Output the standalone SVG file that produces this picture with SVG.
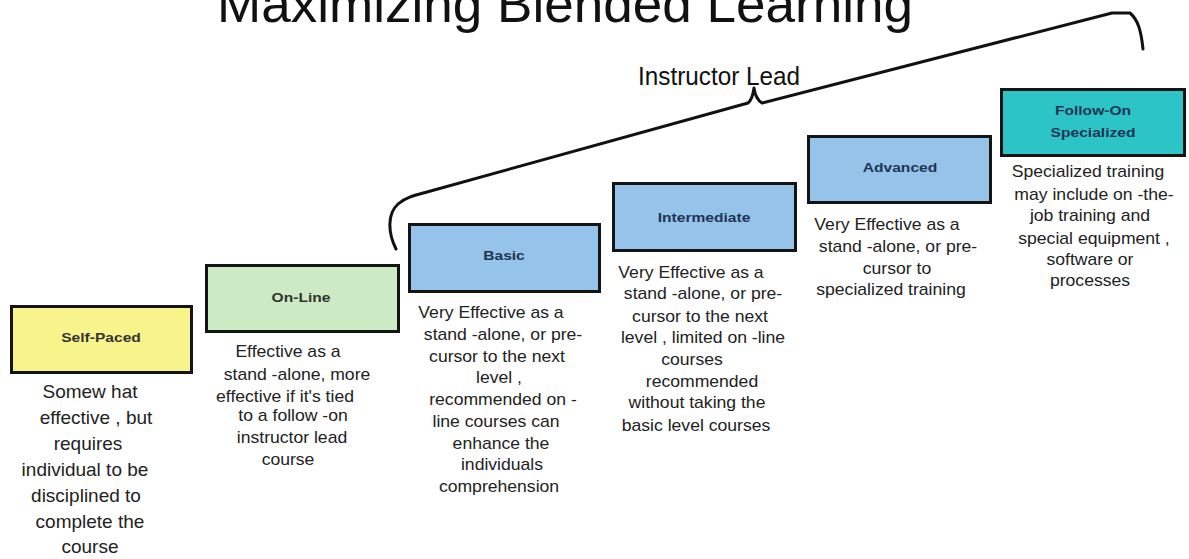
<svg xmlns="http://www.w3.org/2000/svg" width="1189" height="559" viewBox="0 0 1189 559">
<style>
.bg{fill:#ffffff}
.box{stroke:#141414;stroke-width:3}
.yel{fill:#F8F48C}
.grn{fill:#CCEAC4}
.blu{fill:#95C3EA}
.tea{fill:#2CC4C7}
.lbl{font-family:"Liberation Sans",Arial,sans-serif;font-size:13px;font-weight:bold;text-anchor:middle}
.lg{fill:#333333}
.lb{fill:#1F3552}
.desc{font-family:"Liberation Sans",Arial,sans-serif;font-size:16px;fill:#222222;text-anchor:middle}
.desc2{font-family:"Liberation Sans",Arial,sans-serif;font-size:19px;fill:#222222;text-anchor:middle}
.title{font-family:"Liberation Sans",Arial,sans-serif;font-size:52px;fill:#111111}
.il{font-family:"Liberation Sans",Arial,sans-serif;font-size:26px;fill:#111111}
.brace{fill:none;stroke:#111111;stroke-width:3;stroke-linecap:round;stroke-linejoin:round}
</style>
<rect class="bg" x="0" y="0" width="1189" height="559"/>
<text class="title" x="217" y="22" textLength="696" lengthAdjust="spacingAndGlyphs">Maximizing Blended Learning</text>

<g id="connectors">
<path class="brace" d="M396 249 C388 233 387 214 398 204 C406 197 416 195 427 192 L748 103 C752 100 753 95 754 88 C755 95 757 100 762 103 L1112 13 L1130 13 C1138 20 1141 30 1143 49"/>
<text class="il" x="638" y="85" textLength="162" lengthAdjust="spacingAndGlyphs">Instructor Lead</text>
</g>

<g id="self-paced">
<rect class="box yel" x="11.5" y="306.5" width="180" height="66"/>
<text class="lbl lg" transform="translate(101,342) scale(1.2,1)">Self-Paced</text>
<g class="desc2">
<text x="90" y="398">Somew hat</text>
<text x="96" y="424">effective  , but</text>
<text x="88" y="450">requires</text>
<text x="85" y="476">individual to be</text>
<text x="86" y="502">disciplined to</text>
<text x="90" y="528">complete the</text>
<text x="90" y="553">course</text>
</g>
</g>

<g id="on-line">
<rect class="box grn" x="206.5" y="265.5" width="192" height="66"/>
<text class="lbl lg" transform="translate(301,302) scale(1.2,1)">On-Line</text>
<g class="desc">
<text transform="translate(288,357) scale(1.1,1)">Effective as a</text>
<text transform="translate(297,380) scale(1.1,1)">stand -alone, more</text>
<text transform="translate(285,402) scale(1.1,1)">effective if it's tied</text>
<text transform="translate(293,421) scale(1.1,1)">to a follow  -on</text>
<text transform="translate(292,443) scale(1.1,1)">instructor lead</text>
<text transform="translate(288,465) scale(1.1,1)">course</text>
</g>
</g>

<g id="basic">
<rect class="box blu" x="409.5" y="224.5" width="190" height="67"/>
<text class="lbl lb" transform="translate(504,260) scale(1.2,1)">Basic</text>
<g class="desc">
<text transform="translate(491,318) scale(1.1,1)">Very Effective as a</text>
<text transform="translate(503,340) scale(1.1,1)">stand -alone, or pre-</text>
<text transform="translate(497,362) scale(1.1,1)">cursor to the next</text>
<text transform="translate(499,383) scale(1.1,1)">level ,</text>
<text transform="translate(503,405) scale(1.1,1)">recommended on -</text>
<text transform="translate(496,427) scale(1.1,1)">line courses can</text>
<text transform="translate(501,449) scale(1.1,1)">enhance the</text>
<text transform="translate(502,470) scale(1.1,1)">individuals</text>
<text transform="translate(499,492) scale(1.1,1)">comprehension</text>
</g>
</g>

<g id="intermediate">
<rect class="box blu" x="613.5" y="183.5" width="182" height="67"/>
<text class="lbl lb" transform="translate(704,222) scale(1.2,1)">Intermediate</text>
<g class="desc">
<text transform="translate(691,278) scale(1.1,1)">Very Effective as a</text>
<text transform="translate(703,299) scale(1.1,1)">stand -alone, or pre-</text>
<text transform="translate(700,322) scale(1.1,1)">cursor to the next</text>
<text transform="translate(703,343) scale(1.1,1)">level , limited on  -line</text>
<text transform="translate(692,365) scale(1.1,1)">courses</text>
<text transform="translate(702,387) scale(1.1,1)">recommended</text>
<text transform="translate(697,408) scale(1.1,1)">without taking the</text>
<text transform="translate(696,431) scale(1.1,1)">basic level courses</text>
</g>
</g>

<g id="advanced">
<rect class="box blu" x="808.5" y="136.5" width="182" height="66"/>
<text class="lbl lb" transform="translate(900,172) scale(1.2,1)">Advanced</text>
<g class="desc">
<text transform="translate(887,230) scale(1.1,1)">Very Effective as a</text>
<text transform="translate(898,252) scale(1.1,1)">stand -alone, or pre-</text>
<text transform="translate(897,274) scale(1.1,1)">cursor to</text>
<text transform="translate(891,295) scale(1.1,1)">specialized training</text>
</g>
</g>

<g id="follow-on">
<rect class="box tea" x="1001.5" y="89.5" width="183" height="66"/>
<text class="lbl lb" transform="translate(1093,115) scale(1.2,1)">Follow-On</text>
<text class="lbl lb" transform="translate(1093,137) scale(1.2,1)">Specialized</text>
<g class="desc">
<text transform="translate(1088,177) scale(1.1,1)">Specialized training</text>
<text transform="translate(1094,200) scale(1.1,1)">may include on  -the-</text>
<text transform="translate(1090,221) scale(1.1,1)">job training and</text>
<text transform="translate(1094,244) scale(1.1,1)">special equipment  ,</text>
<text transform="translate(1090,265) scale(1.1,1)">software or</text>
<text transform="translate(1090,286) scale(1.1,1)">processes</text>
</g>
</g>
</svg>
